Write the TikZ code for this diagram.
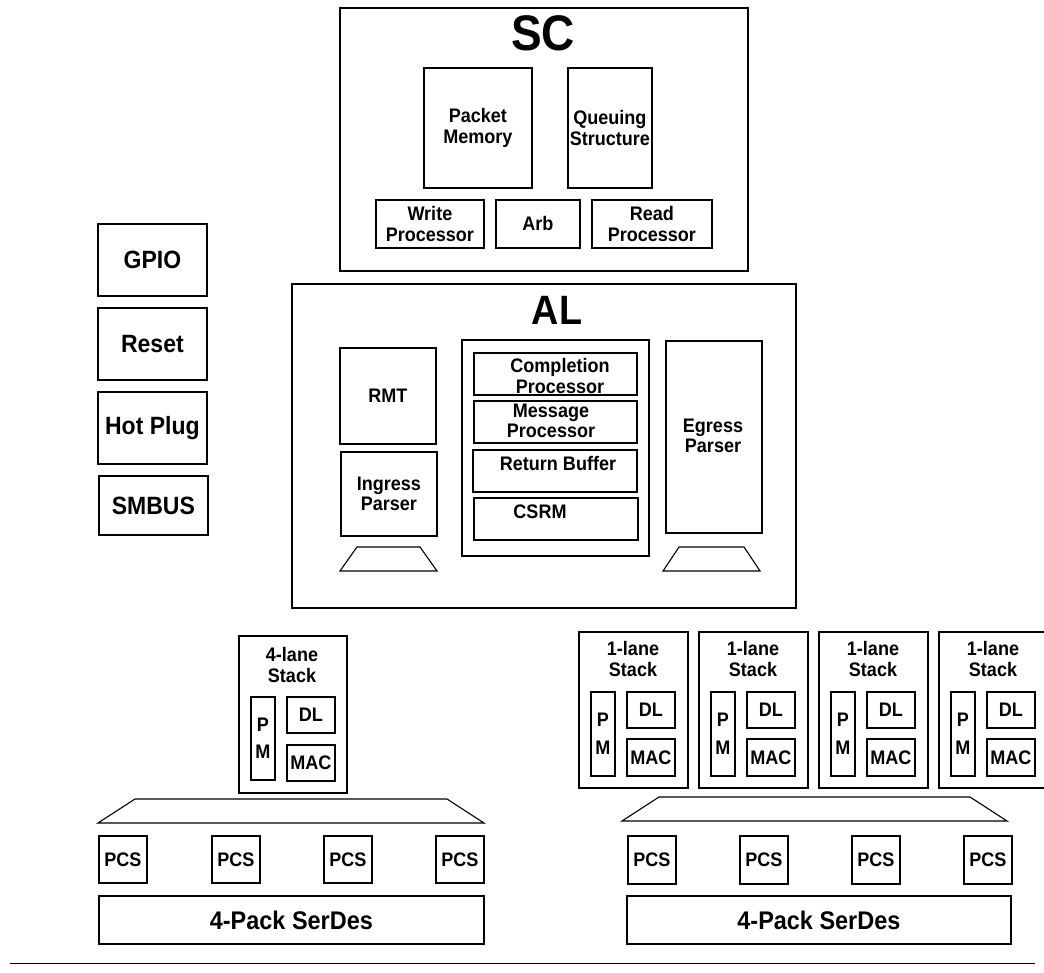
\documentclass[tikz,border=0pt]{standalone}
\usepackage{fontspec}
\setmainfont[FakeStretch=0.92]{Liberation Sans}

\begin{document}
\begin{tikzpicture}[x=1pt,y=-1pt,
   blk/.style={draw, line width=1.8pt, anchor=north west, inner sep=0pt,
               font=\fontsize{19.6}{20.5}\selectfont\bfseries, align=center},
   lbl/.style={font=\fontsize{19.6}{20.5}\selectfont\bfseries, align=center, inner sep=0pt},
   side/.style={blk, minimum width=109pt, font=\fontsize{25}{27}\selectfont\bfseries},
   title/.style={font=\fontsize{#1}{#1}\selectfont\bfseries, inner sep=0pt},
   trap/.style={draw, line width=1.1pt}]
   \useasboundingbox (0,0) rectangle (1044,973);
   % SC
   \node[blk, minimum width=408pt, minimum height=263pt] (sc) at (339,7) {};
   \node[title=50] (sct) at (543,33) {SC};
   \node[blk, minimum width=108pt, minimum height=120pt] (pm) at (423,67) {Packet\\Memory};
   \node[blk, minimum width=84pt, minimum height=120pt] (qs) at (567,67) {Queuing\\Structure};
   \node[blk, minimum width=108pt, minimum height=48pt] (wp) at (375,199) {Write\\Processor};
   \node[blk, minimum width=84pt, minimum height=48pt] (arb) at (495,199) {Arb};
   \node[blk, minimum width=120pt, minimum height=48pt] (rp) at (591,199) {Read\\Processor};
   % side blocks
   \node[side, minimum height=72pt] (gpio) at (97,223) {GPIO};
   \node[side, minimum height=72pt] (rst) at (97,307) {Reset};
   \node[side, minimum height=72pt] (hp) at (97,391) {Hot Plug};
   \node[side, minimum height=59pt] (smb) at (98,475) {SMBUS};
   % AL
   \node[blk, minimum width=504pt, minimum height=324pt] (al) at (291,283) {};
   \node[title=41] (alt) at (557,310) {AL};
   \node[blk, minimum width=96pt, minimum height=96pt] (rmt) at (339,347) {RMT};
   \node[blk, minimum width=96pt, minimum height=84pt] (ip) at (340,451) {Ingress\\Parser};
   \node[blk, minimum width=187pt, minimum height=216pt] (mid) at (461,339) {};
   \node[blk, minimum width=163pt, minimum height=42pt] (cp) at (473,352) {};
   \node[lbl] (cpt) at (560,376) {Completion\\Processor};
   \node[blk, minimum width=163pt, minimum height=42pt] (mp) at (473,400) {};
   \node[lbl] (mpt) at (551,421) {Message\\Processor};
   \node[blk, minimum width=164pt, minimum height=42pt] (rb) at (472,449) {};
   \node[lbl] (rbt) at (558,463) {Return Buffer};
   \node[blk, minimum width=164pt, minimum height=42pt] (csrm) at (473,497) {};
   \node[lbl] (csrmt) at (540,512) {CSRM};
   \node[blk, minimum width=96pt, minimum height=192pt] (ep) at (665,340) {};
   \node[lbl] (ept) at (713,436) {Egress\\Parser};
   \draw[trap] (340,571) -- (357,547) -- (420,547) -- (437,571) -- cycle;
   \draw[trap] (663,571) -- (679,547) -- (744,547) -- (760,571) -- cycle;
   % 4-lane side
   \node[blk, minimum width=108pt, minimum height=157pt] (fl) at (238,635) {};
   \node[lbl] (flt) at (292,665) {4-lane\\Stack};
   \node[blk, minimum width=24pt, minimum height=83pt] (flpm) at (250,696) {P\\[7pt]M};
   \node[blk, minimum width=48pt, minimum height=36pt] (fldl) at (286,696) {DL};
   \node[blk, minimum width=48pt, minimum height=36pt] (flmac) at (286,744) {MAC};
   \draw[trap] (98,823) -- (135,799) -- (447,799) -- (484,823) -- cycle;
   \foreach \x [count=\i] in {98,211,323,435}
      \node[blk, minimum width=48pt, minimum height=47pt] (pcsl\i) at (\x,835) {PCS};
   \node[blk, minimum width=385pt, minimum height=48pt, font=\fontsize{25.5}{27}\selectfont\bfseries] (sdl) at (98,895) {4-Pack SerDes};
   % 1-lane side
   \foreach \i in {0,...,3}{
      \pgfmathsetmacro\xs{578+120*\i}
      \node[blk, minimum width=109pt, minimum height=156pt] (ol\i) at (\xs,631) {};
      \node[lbl] (olt\i) at (\xs+55,659) {1-lane\\Stack};
      \node[blk, minimum width=24pt, minimum height=84pt] (olpm\i) at (\xs+12,691) {P\\[7pt]M};
      \node[blk, minimum width=48pt, minimum height=36pt] (oldl\i) at (\xs+48,691) {DL};
      \node[blk, minimum width=48pt, minimum height=37pt] (olmac\i) at (\xs+48,738) {MAC};
   }
   \draw[trap] (622,821) -- (659,797) -- (970,797) -- (1007,821) -- cycle;
   \foreach \x [count=\i] in {627,739,851,963}
      \node[blk, minimum width=48pt, minimum height=48pt] (pcsr\i) at (\x,835) {PCS};
   \node[blk, minimum width=384pt, minimum height=48pt, font=\fontsize{25.5}{27}\selectfont\bfseries] (sdr) at (626,895) {4-Pack SerDes};
   \draw[line width=1pt] (10,963) -- (1035,963);
\end{tikzpicture}
\end{document}
